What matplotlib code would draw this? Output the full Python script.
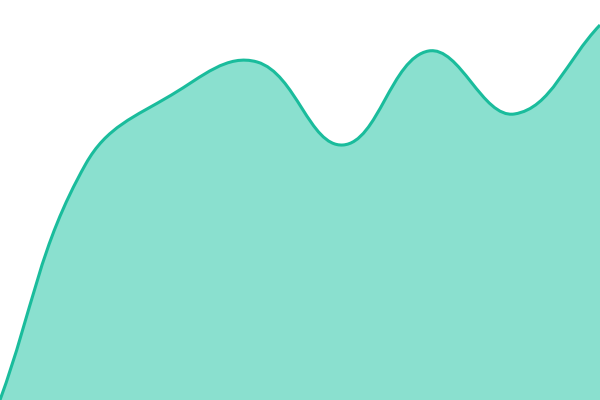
import matplotlib
matplotlib.use('Agg')
import matplotlib.pyplot as plt
import numpy as np
from matplotlib.path import Path
from matplotlib.patches import PathPatch

###############################################################################
labels = ['1', '2', '3', '4', '5', '6', '7', '8']
values = [0, 236, 305, 338, 255, 349, 286, 375]
LINE = '#1abc9c'
FILL = '#8ae0cf'
TENSION = 0.4
###############################################################################

fig = plt.figure(figsize=(6, 4), dpi=100)
ax = fig.add_axes([0, 0, 1, 1])
ax.set_xlim(0, len(values) - 1)
ax.set_ylim(0, 400)
ax.axis('off')

xs = np.arange(len(values), dtype=float)
ys = np.array(values, dtype=float)

# spline control points (chart.js style), distances measured in pixels
sx = 600 / (len(values) - 1)
def cps(i):
    p = np.array([xs[max(i - 1, 0)], ys[max(i - 1, 0)]])
    c = np.array([xs[i], ys[i]])
    n = np.array([xs[min(i + 1, len(xs) - 1)], ys[min(i + 1, len(xs) - 1)]])
    scale = np.array([sx, 1.0])
    d01 = np.hypot(*((c - p) * scale))
    d12 = np.hypot(*((n - c) * scale))
    tot = d01 + d12
    s01 = d01 / tot if tot else 0
    s12 = d12 / tot if tot else 0
    return c - TENSION * s01 * (n - p), c + TENSION * s12 * (n - p)

verts = [(xs[0], ys[0])]
codes = [Path.MOVETO]
for i in range(len(xs) - 1):
    _, c1 = cps(i)
    c2, _ = cps(i + 1)
    verts += [tuple(c1), tuple(c2), (xs[i + 1], ys[i + 1])]
    codes += [Path.CURVE4] * 3

line_path = Path(verts, codes)
fill_path = Path(verts + [(xs[-1], 0), (xs[0], 0), (xs[0], ys[0])],
                 codes + [Path.LINETO, Path.LINETO, Path.CLOSEPOLY])

ax.add_patch(PathPatch(fill_path, facecolor=FILL, edgecolor='none'))
ax.add_patch(PathPatch(line_path, facecolor='none', edgecolor=LINE, lw=2.2, clip_on=False))

plt.savefig('out.png', dpi=100)
print('finished')
